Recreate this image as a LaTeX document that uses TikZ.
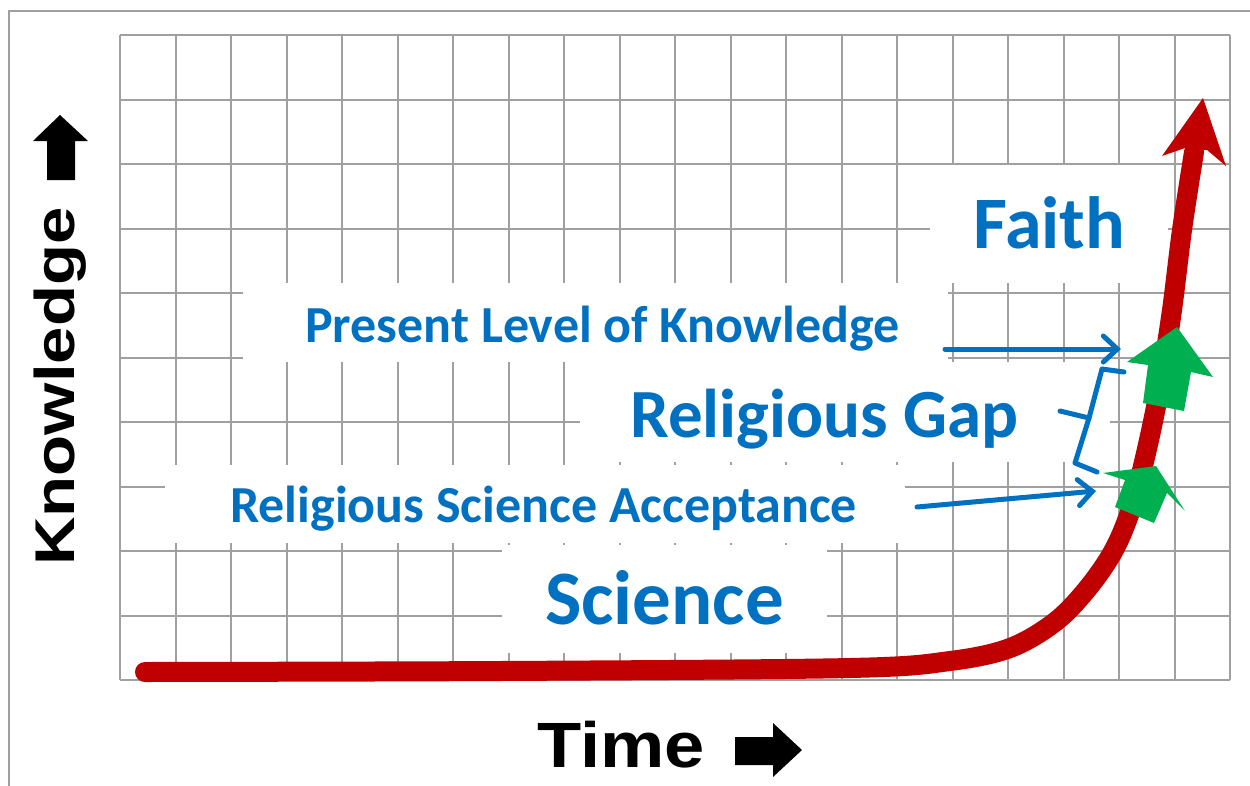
\documentclass[tikz,border=0pt]{standalone}
\usepackage{fontspec}
\newfontfamily\calb{Carlito}
\newfontfamily\axk{Liberation Sans}[FakeStretch=1.2]
\newfontfamily\axt{Liberation Sans}[FakeStretch=1.13]
\usetikzlibrary{arrows.meta}
\definecolor{gridgray}{RGB}{160,160,160}
\definecolor{myblue}{RGB}{0,112,192}
\definecolor{myred}{RGB}{192,0,0}
\definecolor{mygreen}{RGB}{0,176,80}
\begin{document}
\begin{tikzpicture}[x=1pt,y=-1pt,
  gridline/.style={draw=gridgray, line width=2pt},
  blank/.style={fill=white, draw=none},
  lbl/.style={text=myblue, inner sep=0pt, anchor=base west},
  bluearrow/.style={draw=myblue, line width=5pt, line cap=round, -{Straight Barb[length=14pt,width=26pt,line cap=round]}},
  brace/.style={draw=myblue, line width=5pt, line cap=round, line join=round},
  blackarrow/.style={fill=black},
  greenarrow/.style={fill=mygreen}
]
\useasboundingbox (0,0) rectangle (1250,785);
\fill[white] (0,0) rectangle (1250,785);
% outer frame
\draw[gridline] (9,790) -- (9,11) -- (1255,11);
% grid
\foreach \i in {0,...,20} \draw[gridline] ({120+55.5*\i},35) -- ({120+55.5*\i},680);
\foreach \j in {0,...,10} \draw[gridline] (120,{35+64.5*\j}) -- (1230,{35+64.5*\j});
% white label backgrounds
\fill[blank] (930,165) rectangle (1168,283);
\fill[blank] (243,283) rectangle (948,362);
\fill[blank] (580,362) rectangle (1110,462);
\fill[blank] (165,465) rectangle (905,543);
\fill[blank] (502,545) rectangle (827,653);
% labels
\node[lbl, font={\calb\bfseries\fontsize{74}{74}\selectfont}] (faith) at (973,248) {Faith};
\node[lbl, font={\calb\bfseries\fontsize{52}{52}\selectfont}] (present) at (305,342) {Present Level of Knowledge};
\node[lbl, font={\calb\bfseries\fontsize{69}{69}\selectfont}] (gap) at (630,437) {Religious Gap};
\node[lbl, font={\calb\bfseries\fontsize{52}{52}\selectfont}] (rsa) at (230,522) {Religious Science Acceptance};
\node[lbl, font={\calb\bfseries\fontsize{77}{77}\selectfont}] (science) at (545,624) {Science};
% axis labels
\node[inner sep=0pt, anchor=base west, rotate=90, font={\axk\bfseries\fontsize{56}{56}\selectfont}] (knowledge) at (74,566) {Knowledge};
\node[inner sep=0pt, anchor=base west, font={\axt\bfseries\fontsize{64}{64}\selectfont}] (time) at (537,767) {Time};
% black block arrows
\fill[blackarrow] (60,115) -- (88,141) -- (75,141) -- (75,180) -- (47,180) -- (47,141) -- (33,141) -- cycle;
\fill[blackarrow] (802,750) -- (773,723) -- (773,737) -- (735,737) -- (735,765) -- (773,765) -- (773,777) -- cycle;
% red growth curve
\draw[myred, line width=20pt, line cap=round] plot[smooth, tension=0.55] coordinates {(145,672) (500,671) (850,668) (950,661) (1010,648) (1055,622) (1088,588) (1115,548) (1134,500) (1149,440) (1161,380) (1172,310) (1182,230) (1194,152)};
\coordinate (tip) at (1203,98);
\fill[myred] (tip) -- (1226,166) -- (1207,150) -- (1185,148) -- (1162,156) -- cycle;
% green arrows
\fill[greenarrow] (1177,327) -- (1213,377) -- (1191,372) -- (1184,411) -- (1143,403) -- (1148,365) -- (1127,362) -- cycle;
\fill[greenarrow] (1156,466) -- (1185,511) -- (1167,493) -- (1154,523) -- (1115,507) -- (1125,480) -- (1103,473) -- cycle;
% blue arrows
\coordinate (pstart) at (945,349);
\coordinate (pend) at (1121,349);
\coordinate (rstart) at (917,507);
\coordinate (rend) at (1096,491);
\draw[bluearrow] (pstart) -- (pend);
\draw[bluearrow] (rstart) -- (rend);
% brace
\coordinate (b1) at (1124,372);
\coordinate (b2) at (1102,369);
\coordinate (b3) at (1089,418);
\coordinate (b4) at (1060,411);
\coordinate (b5) at (1075,463);
\coordinate (b6) at (1097,472);
\draw[brace] (b1) -- (b2) -- (b3) -- (b5) -- (b6);
\draw[brace] (b3) -- (b4);
\end{tikzpicture}
\end{document}
